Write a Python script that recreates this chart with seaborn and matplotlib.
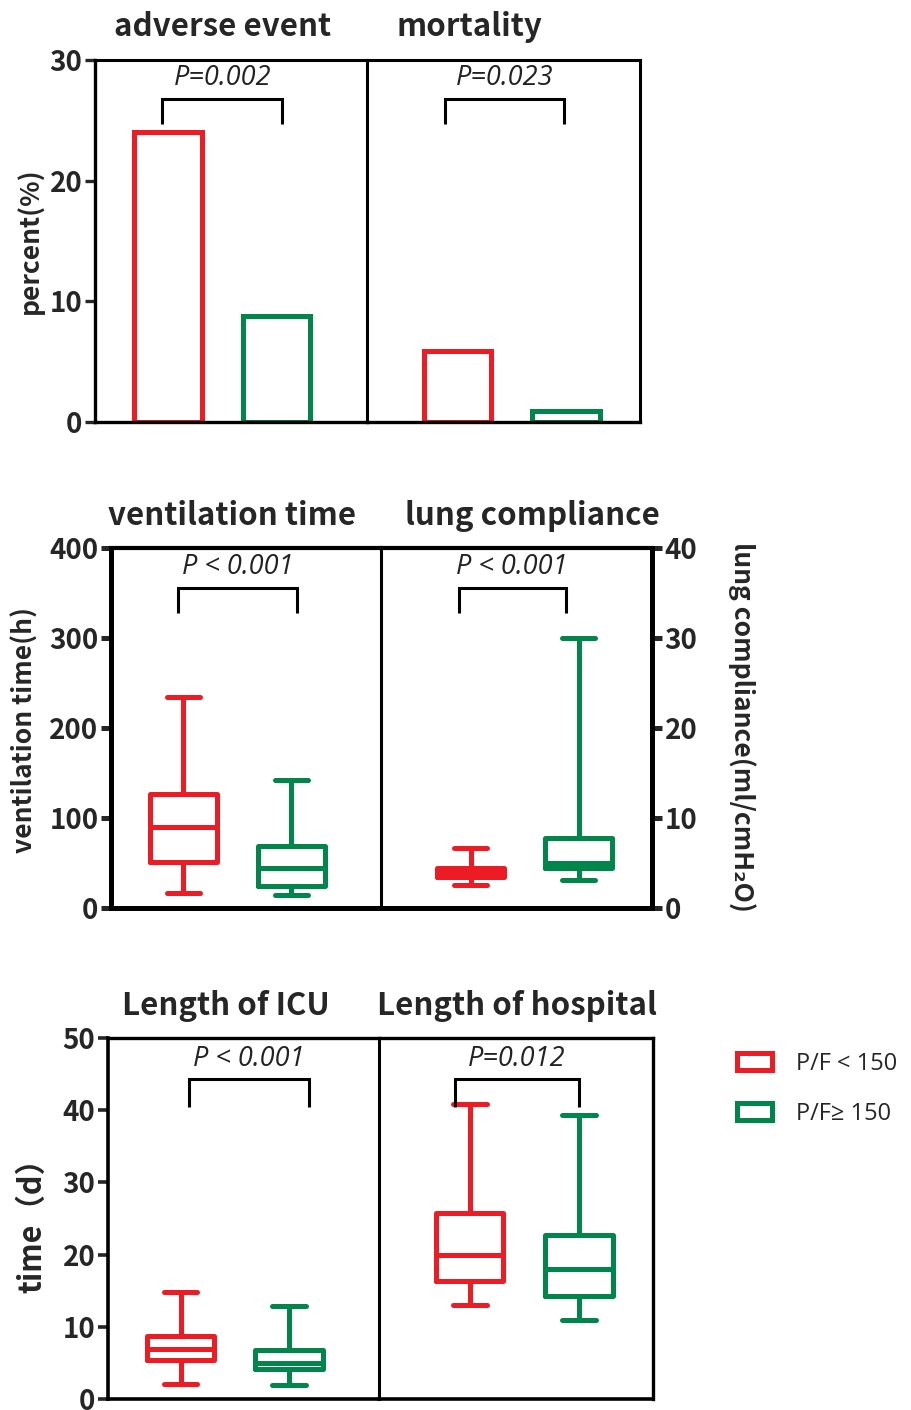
import numpy as np
import pandas as pd
import matplotlib
matplotlib.use("Agg")
import matplotlib.pyplot as plt
from matplotlib.patches import Patch
import seaborn as sns

# groups and colours
groups = ["P/F < 150", "P/F\u2265 150"]
colors = ["#ED1C24", "#00854A"]

# panel 1: percent of patients
adverse_event = [24.0, 8.8]
mortality = [5.9, 0.9]

# box plots as five-number summaries: min, q1, median, q3, max
vent_low = [17, 51, 90, 127, 235]
vent_high = [15, 24, 44, 69, 142]
compl_low = [2.6, 3.4, 3.9, 4.4, 6.7]
compl_high = [3.1, 4.4, 5.0, 7.8, 30.0]
icu_low = [2.1, 5.4, 6.9, 8.7, 14.8]
icu_high = [2.0, 4.2, 5.0, 6.8, 12.9]
hosp_low = [13.0, 16.4, 20.0, 25.8, 40.8]
hosp_high = [11.0, 14.3, 18.0, 22.7, 39.4]

titles = ["adverse event", "mortality", "ventilation time", "lung compliance",
          "Length of ICU", "Length of hospital"]
p_labels = ["P=0.002", "P=0.023", "P < 0.001", "P < 0.001", "P < 0.001", "P=0.012"]

W, H = 911, 1410
sns.set_style("ticks")
plt.rcParams["font.family"] = ["Noto Sans CJK SC", "DejaVu Sans"]
CJK = ["Noto Sans CJK SC", "DejaVu Sans"]
PFONT = ["Open Sans", "DejaVu Sans"]

fig = plt.figure(figsize=(W / 100, H / 100), dpi=100)


def px_rect(x0, x1, y0, y1):
    return [x0 / W, 1 - y1 / H, (x1 - x0) / W, (y1 - y0) / H]


def make_pair(x0, xm, x1, y0, y1):
    axl = fig.add_axes(px_rect(x0, xm, y0, y1))
    axr = fig.add_axes(px_rect(xm, x1, y0, y1))
    return axl, axr


def box_frame(low, high):
    return pd.DataFrame({"group": [groups[0]] * 5 + [groups[1]] * 5,
                         "value": list(low) + list(high)})


def style_pair(axl, axr, ylim, yticks, lw_main, lw_thin, right_axis=False):
    for ax in (axl, axr):
        ax.set_ylim(*ylim)
        ax.set_xticks([])
        ax.set_xlabel("")
        ax.set_ylabel("")
        for s in ax.spines.values():
            s.set_visible(True)
            s.set_color("black")
        ax.spines["top"].set_linewidth(lw_thin)
        ax.spines["bottom"].set_linewidth(lw_main)
    axl.set_xlim(-0.67, 1.83)
    axr.set_xlim(-0.83, 1.68)
    axl.spines["left"].set_linewidth(lw_main)
    # divider between the two halves is drawn by the right half
    axl.spines["right"].set_visible(False)
    axr.spines["left"].set_linewidth(2.2)
    axr.spines["right"].set_linewidth(lw_main if right_axis else lw_thin)
    axl.set_yticks(yticks)
    axl.tick_params(axis="y", direction="out", length=7, width=lw_main,
                    labelsize=20, pad=2)
    for t in axl.get_yticklabels():
        t.set_fontweight("bold")
    axr.tick_params(axis="y", left=False, labelleft=False)
    if not right_axis:
        axr.set_yticks([])


def add_title(ax, xfrac, text):
    ax.text(xfrac, 1.09, text, transform=ax.transAxes, ha="center", va="center",
            fontsize=22.5, fontweight="bold", family=CJK)


def add_bracket(ax, xa, xb, y_top, y_leg, y_text, text):
    ax.plot([xa, xa, xb, xb], [y_leg, y_top, y_top, y_leg], color="black",
            lw=2.2, solid_capstyle="butt", solid_joinstyle="miter", clip_on=False)
    ax.text((xa + xb) / 2, y_text, text, ha="center", va="center", fontsize=19.5,
            style="italic", color="#222222", family=PFONT)


def draw_boxes(ax, low, high):
    sns.boxplot(data=box_frame(low, high), x="group", y="value", hue="group",
                order=groups, hue_order=groups, palette=colors, fill=False,
                width=0.62, linewidth=3.6, whis=(0, 100), showfliers=False,
                legend=False, ax=ax)


# ---- panel 1: bars
a1, b1 = make_pair(95, 367, 640, 60, 422)
for ax, vals in ((a1, adverse_event), (b1, mortality)):
    sns.barplot(x=groups, y=vals, hue=groups, order=groups, hue_order=groups,
                palette=colors, fill=False, width=0.62, linewidth=3.6,
                errorbar=None, legend=False, ax=ax)
style_pair(a1, b1, (0, 30), [0, 10, 20, 30], 2.4, 2.2)
add_title(a1, 0.47, titles[0])
add_title(b1, 0.374, titles[1])
add_bracket(a1, -0.05, 1.05, 26.8, 24.7, 28.5, p_labels[0])
add_bracket(b1, -0.11, 0.98, 26.8, 24.7, 28.5, p_labels[1])
fig.text(30 / W, 1 - 241 / H, "percent(%)", rotation=90, ha="center", va="center",
         fontsize=19, fontweight="bold", family=CJK)

# ---- panel 2: ventilation time / lung compliance
a2, b2 = make_pair(111, 381, 652, 548, 908)
draw_boxes(a2, vent_low, vent_high)
draw_boxes(b2, compl_low, compl_high)
style_pair(a2, b2, (0, 400), [0, 100, 200, 300, 400], 3.6, 3.0, right_axis=True)
b2.set_ylim(0, 40)
b2.yaxis.tick_right()
b2.set_yticks([0, 10, 20, 30, 40])
b2.tick_params(axis="y", direction="out", length=7, width=3.6, labelsize=20, pad=2,
               left=False, right=True, labelleft=False, labelright=True)
for t in b2.get_yticklabels():
    t.set_fontweight("bold")
add_title(a2, 0.448, titles[2])
add_title(b2, 0.557, titles[3])
add_bracket(a2, -0.05, 1.05, 355.5, 327.8, 379, p_labels[2])
add_bracket(b2, -0.11, 0.88, 35.55, 32.78, 37.9, p_labels[3])
fig.text(25 / W, 1 - 730 / H, "ventilation time(h)", rotation=90, ha="center",
         va="center", fontsize=19, fontweight="bold", family=CJK)
fig.text(742 / W, 1 - 727 / H, "lung compliance(ml/cmH\u2082O)", rotation=-90,
         ha="center", va="center", fontsize=19, fontweight="bold", family=CJK)

# ---- panel 3: length of stay
a3, b3 = make_pair(108, 379, 653, 1038, 1399)
draw_boxes(a3, icu_low, icu_high)
draw_boxes(b3, hosp_low, hosp_high)
style_pair(a3, b3, (0, 50), [0, 10, 20, 30, 40, 50], 2.6, 2.4)
add_title(a3, 0.435, titles[4])
add_title(b3, 0.504, titles[5])
add_bracket(a3, 0.08, 1.18, 44.3, 40.5, 47.1, p_labels[4])
add_bracket(b3, -0.13, 1.0, 44.3, 40.5, 47.1, p_labels[5])
fig.text(32 / W, 1 - 1218 / H, "time\uff08d\uff09", rotation=90, ha="center",
         va="center", fontsize=22, fontweight="bold", family=CJK)

# legend
handles = [Patch(facecolor="white", edgecolor=c, linewidth=3.6, label=g)
           for g, c in zip(groups, colors)]
fig.legend(handles=handles, loc="upper left", bbox_to_anchor=(737 / W, 1 - 1052 / H),
           frameon=False, handlelength=1.5, handleheight=0.75,
           handletextpad=1.0, labelspacing=1.1, borderpad=0, borderaxespad=0,
           prop={"family": PFONT, "size": 17})

fig.savefig("out.png", dpi=100)
